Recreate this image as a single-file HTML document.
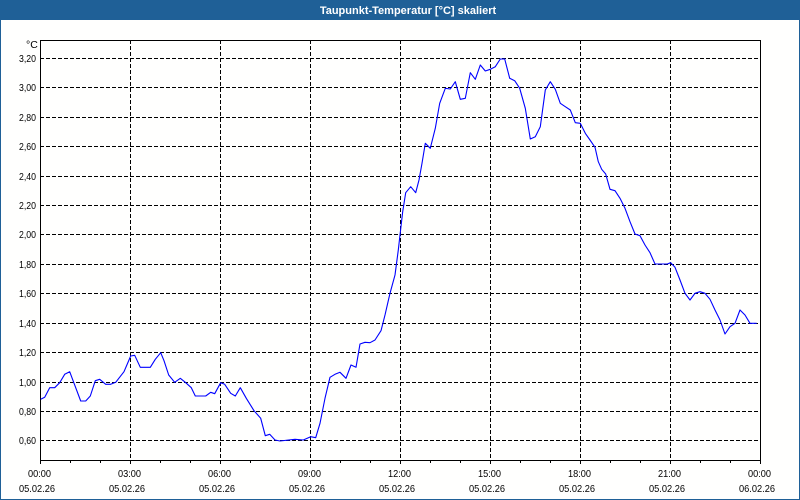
<!DOCTYPE html>
<html>
<head>
<meta charset="utf-8">
<style>
  html,body{margin:0;padding:0;background:#fff;}
  body{width:800px;height:500px;overflow:hidden;}
  svg{display:block;}
  text{font-family:"Liberation Sans",Arial,sans-serif;}
</style>
</head>
<body>
<svg width="800" height="500" viewBox="0 0 800 500" xmlns="http://www.w3.org/2000/svg">
  <rect x="0" y="0" width="800" height="500" fill="#fffffe"/>
  <rect x="0" y="0" width="800" height="20" fill="#1f6097"/>
  <text x="408" y="14" text-anchor="middle" font-size="11" font-weight="bold" fill="#ffffff">Taupunkt-Temperatur [°C] skaliert</text>
  <rect x="0.5" y="0.5" width="799" height="499" fill="none" stroke="#1f6097" stroke-width="1"/>

  <g stroke="#000" stroke-width="1" stroke-dasharray="4,2" shape-rendering="crispEdges">
    <line x1="40" y1="58.5" x2="760" y2="58.5"/>
    <line x1="40" y1="87.5" x2="760" y2="87.5"/>
    <line x1="40" y1="117.5" x2="760" y2="117.5"/>
    <line x1="40" y1="146.5" x2="760" y2="146.5"/>
    <line x1="40" y1="176.5" x2="760" y2="176.5"/>
    <line x1="40" y1="205.5" x2="760" y2="205.5"/>
    <line x1="40" y1="234.5" x2="760" y2="234.5"/>
    <line x1="40" y1="264.5" x2="760" y2="264.5"/>
    <line x1="40" y1="293.5" x2="760" y2="293.5"/>
    <line x1="40" y1="323.5" x2="760" y2="323.5"/>
    <line x1="40" y1="352.5" x2="760" y2="352.5"/>
    <line x1="40" y1="382.5" x2="760" y2="382.5"/>
    <line x1="40" y1="411.5" x2="760" y2="411.5"/>
    <line x1="40" y1="440.5" x2="760" y2="440.5"/>
    <line x1="130.5" y1="40" x2="130.5" y2="460"/>
    <line x1="220.5" y1="40" x2="220.5" y2="460"/>
    <line x1="310.5" y1="40" x2="310.5" y2="460"/>
    <line x1="400.5" y1="40" x2="400.5" y2="460"/>
    <line x1="490.5" y1="40" x2="490.5" y2="460"/>
    <line x1="580.5" y1="40" x2="580.5" y2="460"/>
    <line x1="670.5" y1="40" x2="670.5" y2="460"/>
  </g>

  <rect x="40.5" y="40.5" width="720" height="420" fill="none" stroke="#000" stroke-width="1" shape-rendering="crispEdges"/>

  <g stroke="#000" stroke-width="1" shape-rendering="crispEdges">
    <line x1="40.5" y1="460" x2="40.5" y2="464"/>
    <line x1="70.5" y1="460" x2="70.5" y2="463"/>
    <line x1="100.5" y1="460" x2="100.5" y2="463"/>
    <line x1="130.5" y1="460" x2="130.5" y2="464"/>
    <line x1="160.5" y1="460" x2="160.5" y2="463"/>
    <line x1="190.5" y1="460" x2="190.5" y2="463"/>
    <line x1="220.5" y1="460" x2="220.5" y2="464"/>
    <line x1="250.5" y1="460" x2="250.5" y2="463"/>
    <line x1="280.5" y1="460" x2="280.5" y2="463"/>
    <line x1="310.5" y1="460" x2="310.5" y2="464"/>
    <line x1="340.5" y1="460" x2="340.5" y2="463"/>
    <line x1="370.5" y1="460" x2="370.5" y2="463"/>
    <line x1="400.5" y1="460" x2="400.5" y2="464"/>
    <line x1="430.5" y1="460" x2="430.5" y2="463"/>
    <line x1="460.5" y1="460" x2="460.5" y2="463"/>
    <line x1="490.5" y1="460" x2="490.5" y2="464"/>
    <line x1="520.5" y1="460" x2="520.5" y2="463"/>
    <line x1="550.5" y1="460" x2="550.5" y2="463"/>
    <line x1="580.5" y1="460" x2="580.5" y2="464"/>
    <line x1="610.5" y1="460" x2="610.5" y2="463"/>
    <line x1="640.5" y1="460" x2="640.5" y2="463"/>
    <line x1="670.5" y1="460" x2="670.5" y2="464"/>
    <line x1="700.5" y1="460" x2="700.5" y2="463"/>
    <line x1="730.5" y1="460" x2="730.5" y2="463"/>
    <line x1="760.5" y1="460" x2="760.5" y2="464"/>
  </g>

  <g font-size="10.5" fill="#000">
    <text x="26" y="48">°C</text>
    <text x="19" y="62" textLength="17" lengthAdjust="spacingAndGlyphs">3,20</text>
    <text x="19" y="91" textLength="17" lengthAdjust="spacingAndGlyphs">3,00</text>
    <text x="19" y="121" textLength="17" lengthAdjust="spacingAndGlyphs">2,80</text>
    <text x="19" y="150" textLength="17" lengthAdjust="spacingAndGlyphs">2,60</text>
    <text x="19" y="180" textLength="17" lengthAdjust="spacingAndGlyphs">2,40</text>
    <text x="19" y="209" textLength="17" lengthAdjust="spacingAndGlyphs">2,20</text>
    <text x="19" y="238" textLength="17" lengthAdjust="spacingAndGlyphs">2,00</text>
    <text x="19" y="268" textLength="17" lengthAdjust="spacingAndGlyphs">1,80</text>
    <text x="19" y="297" textLength="17" lengthAdjust="spacingAndGlyphs">1,60</text>
    <text x="19" y="327" textLength="17" lengthAdjust="spacingAndGlyphs">1,40</text>
    <text x="19" y="356" textLength="17" lengthAdjust="spacingAndGlyphs">1,20</text>
    <text x="19" y="386" textLength="17" lengthAdjust="spacingAndGlyphs">1,00</text>
    <text x="19" y="415" textLength="17" lengthAdjust="spacingAndGlyphs">0,80</text>
    <text x="19" y="444" textLength="17" lengthAdjust="spacingAndGlyphs">0,60</text>
  </g>

  <g font-size="10.5" fill="#000">
    <text x="28" y="477" textLength="23" lengthAdjust="spacingAndGlyphs">00:00</text>
    <text x="118" y="477" textLength="23" lengthAdjust="spacingAndGlyphs">03:00</text>
    <text x="208" y="477" textLength="23" lengthAdjust="spacingAndGlyphs">06:00</text>
    <text x="298" y="477" textLength="23" lengthAdjust="spacingAndGlyphs">09:00</text>
    <text x="388" y="477" textLength="23" lengthAdjust="spacingAndGlyphs">12:00</text>
    <text x="478" y="477" textLength="23" lengthAdjust="spacingAndGlyphs">15:00</text>
    <text x="568" y="477" textLength="23" lengthAdjust="spacingAndGlyphs">18:00</text>
    <text x="658" y="477" textLength="23" lengthAdjust="spacingAndGlyphs">21:00</text>
    <text x="748" y="477" textLength="23" lengthAdjust="spacingAndGlyphs">00:00</text>
    <text x="19" y="492" textLength="36" lengthAdjust="spacingAndGlyphs">05.02.26</text>
    <text x="109" y="492" textLength="36" lengthAdjust="spacingAndGlyphs">05.02.26</text>
    <text x="199" y="492" textLength="36" lengthAdjust="spacingAndGlyphs">05.02.26</text>
    <text x="289" y="492" textLength="36" lengthAdjust="spacingAndGlyphs">05.02.26</text>
    <text x="379" y="492" textLength="36" lengthAdjust="spacingAndGlyphs">05.02.26</text>
    <text x="469" y="492" textLength="36" lengthAdjust="spacingAndGlyphs">05.02.26</text>
    <text x="559" y="492" textLength="36" lengthAdjust="spacingAndGlyphs">05.02.26</text>
    <text x="649" y="492" textLength="36" lengthAdjust="spacingAndGlyphs">05.02.26</text>
    <text x="739" y="492" textLength="36" lengthAdjust="spacingAndGlyphs">06.02.26</text>
  </g>

  <polyline fill="none" stroke="#0000ff" stroke-width="1.1" stroke-linejoin="round"
    points="40.7,399.3 44.7,397.3 49.7,387.7 54.7,387.7 59.7,382.7 64.7,374.3 69.7,371.7 80.7,401 85.7,401 90.3,396 95.3,380.7 99.7,379.3 105.7,384.3 110.7,384.3 115.7,382.3 124,371.7 130.7,356 134.7,355.3 140.3,367.3 150.3,367.3 155.3,359.3 160.7,352.7 164,360.7 168.7,375 174.7,382.3 180.3,378.3 185.3,382.3 191.3,387.7 195.3,396 205.7,396 210.7,392.3 214.7,393.7 220.7,382.7 224.7,384.3 230.7,393.3 235.3,396 240.3,387.7 246.3,398.3 254,410.7 260.7,418.3 265.3,435.7 269.7,434.3 275,440 280,441 295,439.3 303.3,440 310.7,436.7 315.7,437.7 320,423.3 325,398.3 330,377.3 335,374.3 340,372.3 346,378.3 351,365 356,367.3 360,344 365,342.3 370,342.7 375,340 381,330.7 385,315 390,293.3 395,275 398.3,250 400,235 402.7,211.7 405.7,192.7 410.7,186.7 415.7,192.7 419,180 422,163.3 425.3,143.3 430.3,148.3 435.3,128.3 439.7,103.3 445.3,88.3 450.3,89 455.3,81.7 460.3,99.3 465.3,98.3 470.3,72.7 475.3,79.3 480.3,65 485.3,71 490.3,69.3 495.3,66.7 500.3,59 504.7,59 509.7,78.3 514.7,80.7 519.7,88.3 525.3,108.3 530.3,139 535.3,136.7 540.3,126.7 545.3,90 550.3,81.7 555.3,89.3 560.3,103.3 565.3,106.7 570.3,110 575.3,122.7 580.3,123.3 585.3,133.3 590,140 595,147.3 598.3,161.7 601.7,169.3 605.7,174 610,189.3 615,190.7 620,198.3 625,208.3 630,221.7 635,234 640,235.7 645,245 650,252.7 655,264 667.3,264 670.7,262.7 675,267.3 680,280 685,293.3 690,300 695,293.3 700,291.7 705,293.3 710,299.3 715,310 720,320 725,334 730,326.7 735,323.3 740,310 745,315 750,323.3 756.7,323.3"/>
</svg>
</body>
</html>
